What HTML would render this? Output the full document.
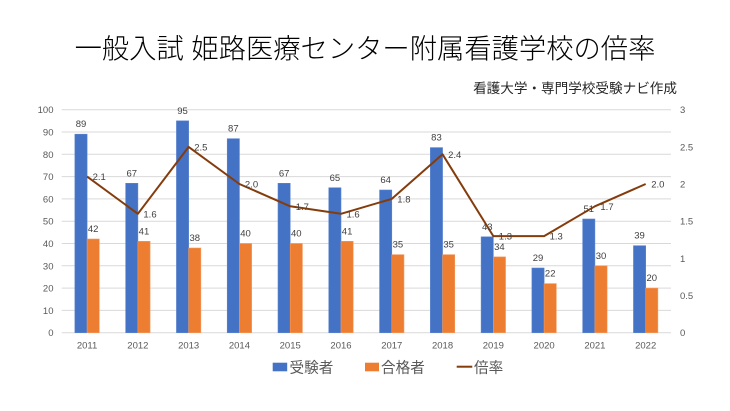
<!DOCTYPE html>
<html><head><meta charset="utf-8">
<style>
html,body{margin:0;padding:0;background:#fff;}
svg{display:block;}
.ax{font-family:"Liberation Sans",sans-serif;font-size:9.5px;fill:#595959;}
.dl{font-family:"Liberation Sans",sans-serif;font-size:9.5px;fill:#404040;}
.jp{font-family:"Liberation Sans","Noto Sans CJK JP",sans-serif;}
.ttl{font-family:"Liberation Sans","Noto Sans CJK JP",sans-serif;font-weight:300;}
</style></head>
<body>
<svg width="730" height="411" viewBox="0 0 730 411" xmlns="http://www.w3.org/2000/svg">
<rect width="730" height="411" fill="#fff"/>
<text class="ttl" x="365" y="58" text-anchor="middle" font-size="27.3" fill="#000">一般入試 姫路医療センター附属看護学校の倍率</text>
<text class="jp" x="677" y="93" text-anchor="end" font-size="13.6" fill="#262626">看護大学・専門学校受験ナビ作成</text>
<g stroke="#D9D9D9" stroke-width="1">
<line x1="61.7" x2="671" y1="109.7" y2="109.7"/>
<line x1="61.7" x2="671" y1="132" y2="132"/>
<line x1="61.7" x2="671" y1="154.3" y2="154.3"/>
<line x1="61.7" x2="671" y1="176.6" y2="176.6"/>
<line x1="61.7" x2="671" y1="198.9" y2="198.9"/>
<line x1="61.7" x2="671" y1="221.2" y2="221.2"/>
<line x1="61.7" x2="671" y1="243.5" y2="243.5"/>
<line x1="61.7" x2="671" y1="265.8" y2="265.8"/>
<line x1="61.7" x2="671" y1="288.1" y2="288.1"/>
<line x1="61.7" x2="671" y1="310.4" y2="310.4"/>
<line x1="61.7" x2="671" y1="332.7" y2="332.7"/>
</g>
<g class="ax" text-anchor="end">
<text x="53.5" y="113.2">100</text>
<text x="53.5" y="135.5">90</text>
<text x="53.5" y="157.8">80</text>
<text x="53.5" y="180.1">70</text>
<text x="53.5" y="202.4">60</text>
<text x="53.5" y="224.7">50</text>
<text x="53.5" y="247">40</text>
<text x="53.5" y="269.3">30</text>
<text x="53.5" y="291.6">20</text>
<text x="53.5" y="313.9">10</text>
<text x="53.5" y="336.2">0</text>
</g>
<g class="ax" text-anchor="start">
<text x="680" y="113.2">3</text>
<text x="680" y="150.4">2.5</text>
<text x="680" y="187.5">2</text>
<text x="680" y="224.7">1.5</text>
<text x="680" y="262">1</text>
<text x="680" y="299.1">0.5</text>
<text x="680" y="336.2">0</text>
</g>
<g fill="#4472C4" stroke="#5B85D0" stroke-width="0.6">
<rect x="74.89" y="134.2" width="12.2" height="198.5"/>
<rect x="125.67" y="183.3" width="12.2" height="149.4"/>
<rect x="176.45" y="120.85" width="12.2" height="211.85"/>
<rect x="227.23" y="138.7" width="12.2" height="194"/>
<rect x="278.01" y="183.3" width="12.2" height="149.4"/>
<rect x="328.79" y="187.75" width="12.2" height="144.95"/>
<rect x="379.57" y="190" width="12.2" height="142.7"/>
<rect x="430.35" y="147.6" width="12.2" height="185.1"/>
<rect x="481.13" y="236.8" width="12.2" height="95.9"/>
<rect x="531.91" y="268" width="12.2" height="64.7"/>
<rect x="582.69" y="219" width="12.2" height="113.7"/>
<rect x="633.47" y="245.7" width="12.2" height="87"/>
</g>
<g fill="#ED7D31" stroke="#F29A5E" stroke-width="0.6">
<rect x="87.09" y="239" width="12.2" height="93.7"/>
<rect x="137.87" y="241.3" width="12.2" height="91.4"/>
<rect x="188.65" y="248" width="12.2" height="84.7"/>
<rect x="239.43" y="243.5" width="12.2" height="89.2"/>
<rect x="290.21" y="243.5" width="12.2" height="89.2"/>
<rect x="340.99" y="241.3" width="12.2" height="91.4"/>
<rect x="391.77" y="254.65" width="12.2" height="78.05"/>
<rect x="442.55" y="254.65" width="12.2" height="78.05"/>
<rect x="493.33" y="256.9" width="12.2" height="75.8"/>
<rect x="544.11" y="283.6" width="12.2" height="49.1"/>
<rect x="594.89" y="265.8" width="12.2" height="66.9"/>
<rect x="645.67" y="288.1" width="12.2" height="44.6"/>
</g>
<polyline fill="none" stroke="#843C0C" stroke-width="2" stroke-linejoin="round" points="87.09,176.6 137.87,213.8 188.65,146.9 239.43,184 290.21,206.3 340.99,213.8 391.77,198.9 442.55,154.3 493.33,236.1 544.11,236.1 594.89,206.3 645.67,184"/>
<g class="dl" text-anchor="middle">
<text x="80.99" y="127.2">89</text>
<text x="131.77" y="176.3">67</text>
<text x="182.55" y="113.85">95</text>
<text x="233.33" y="131.7">87</text>
<text x="284.11" y="176.3">67</text>
<text x="334.89" y="180.75">65</text>
<text x="385.67" y="183">64</text>
<text x="436.45" y="140.6">83</text>
<text x="487.23" y="229.8">43</text>
<text x="538.01" y="261">29</text>
<text x="588.79" y="212">51</text>
<text x="639.57" y="238.7">39</text>
<text x="93.19" y="232">42</text>
<text x="143.97" y="234.3">41</text>
<text x="194.75" y="241">38</text>
<text x="245.53" y="236.5">40</text>
<text x="296.31" y="236.5">40</text>
<text x="347.09" y="234.3">41</text>
<text x="397.87" y="247.65">35</text>
<text x="448.65" y="247.65">35</text>
<text x="499.43" y="249.9">34</text>
<text x="550.21" y="276.6">22</text>
<text x="600.99" y="258.8">30</text>
<text x="651.77" y="281.1">20</text>
</g>
<g class="dl" text-anchor="start">
<text x="92.6" y="180.1">2.1</text>
<text x="143.4" y="217.3">1.6</text>
<text x="194.2" y="150.4">2.5</text>
<text x="244.9" y="187.5">2.0</text>
<text x="295.7" y="209.8">1.7</text>
<text x="346.5" y="217.3">1.6</text>
<text x="397.3" y="202.4">1.8</text>
<text x="448.1" y="157.8">2.4</text>
<text x="498.8" y="239.6">1.3</text>
<text x="549.6" y="239.6">1.3</text>
<text x="600.4" y="209.8">1.7</text>
<text x="651.2" y="187.5">2.0</text>
</g>
<g class="ax" text-anchor="middle">
<text x="87.09" y="348.5">2011</text>
<text x="137.87" y="348.5">2012</text>
<text x="188.65" y="348.5">2013</text>
<text x="239.43" y="348.5">2014</text>
<text x="290.21" y="348.5">2015</text>
<text x="340.99" y="348.5">2016</text>
<text x="391.77" y="348.5">2017</text>
<text x="442.55" y="348.5">2018</text>
<text x="493.33" y="348.5">2019</text>
<text x="544.11" y="348.5">2020</text>
<text x="594.89" y="348.5">2021</text>
<text x="645.67" y="348.5">2022</text>
</g>
<rect x="272.7" y="362.7" width="14.5" height="8.6" fill="#4472C4"/>
<text class="jp" x="289.5" y="372.3" font-size="14.6" fill="#595959">受験者</text>
<rect x="365" y="362.7" width="14" height="8.6" fill="#ED7D31"/>
<text class="jp" x="381" y="372.3" font-size="14.6" fill="#595959">合格者</text>
<line x1="456.7" x2="472.3" y1="366.7" y2="366.7" stroke="#843C0C" stroke-width="2"/>
<text class="jp" x="474" y="372.3" font-size="14.6" fill="#595959">倍率</text>
</svg>
</body></html>
